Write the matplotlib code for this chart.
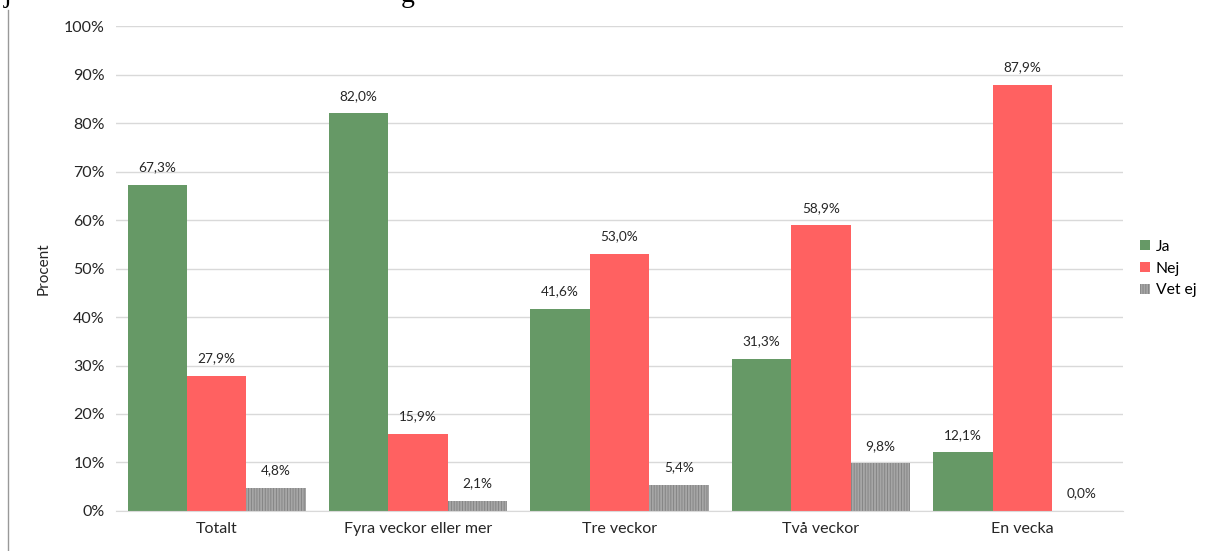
import matplotlib.pyplot as plt
import numpy as np
from matplotlib.ticker import FuncFormatter

plt.rcParams['font.family'] = ['Lato', 'DejaVu Sans']
plt.rcParams['hatch.linewidth'] = 0.6

# Data
categories = ['Totalt', 'Fyra veckor eller mer', 'Tre veckor', 'Två veckor', 'En vecka']
ja = [67.3, 82.0, 41.6, 31.3, 12.1]
nej = [27.9, 15.9, 53.0, 58.9, 87.9]
vet_ej = [4.8, 2.1, 5.4, 9.8, 0.0]
series_names = ['Ja', 'Nej', 'Vet ej']

fig = plt.figure(figsize=(12.11, 5.51), dpi=100)
ax = fig.add_axes([0.0958, 0.0726, 0.8315, 0.8802])

x = np.arange(len(categories))
w = 0.295
b1 = ax.bar(x - w, ja, w, color='#669966', label=series_names[0])
b2 = ax.bar(x, nej, w, color='#ff6161', label=series_names[1])
b3 = ax.bar(x + w, vet_ej, w, facecolor='#a6a6a6', edgecolor='#808080',
            hatch='||||||', linewidth=0, label=series_names[2])

for bars in (b1, b2, b3):
    for r in bars:
        h = r.get_height()
        ax.text(r.get_x() + r.get_width() / 2, h + 2.4, f'{h:.1f}%'.replace('.', ','),
                ha='center', va='bottom', fontsize=9.8, color='#262626')

ax.set_xlim(-0.5, len(categories) - 0.5)
ax.set_ylim(0, 100)
ax.set_yticks(range(0, 101, 10))
ax.yaxis.set_major_formatter(FuncFormatter(lambda v, p: f'{int(v)}%'))
ax.set_xticks(x)
ax.set_xticklabels(categories)
ax.tick_params(axis='both', length=0, labelsize=11.5, colors='#262626', pad=8)
ax.set_ylabel('Procent', fontsize=11, color='#262626', labelpad=10)

ax.grid(axis='y', color='#d9d9d9', linewidth=1)
ax.set_axisbelow(True)
for s in ['top', 'right', 'left']:
    ax.spines[s].set_visible(False)
ax.spines['bottom'].set_color('#d9d9d9')

leg = ax.legend(loc='center left', bbox_to_anchor=(1.006, 0.5), frameon=False,
                fontsize=11.3, handlelength=0.65, handleheight=0.65, handletextpad=0.35,
                labelspacing=0.5, borderaxespad=0.3)

# cut-off page elements from the source document
fig.add_artist(plt.Line2D([8 / 1211, 8 / 1211], [0, 1 - 10 / 551], color='#999999', linewidth=1))
fig.text(8 / 1211, 1 + 4 / 551, 'j', fontsize=20, family='Liberation Serif', ha='center', va='center')
fig.text(408 / 1211, 1 + 4 / 551, 'g', fontsize=20, family='Liberation Serif', ha='center', va='center')

fig.savefig('out.png', dpi=100)
